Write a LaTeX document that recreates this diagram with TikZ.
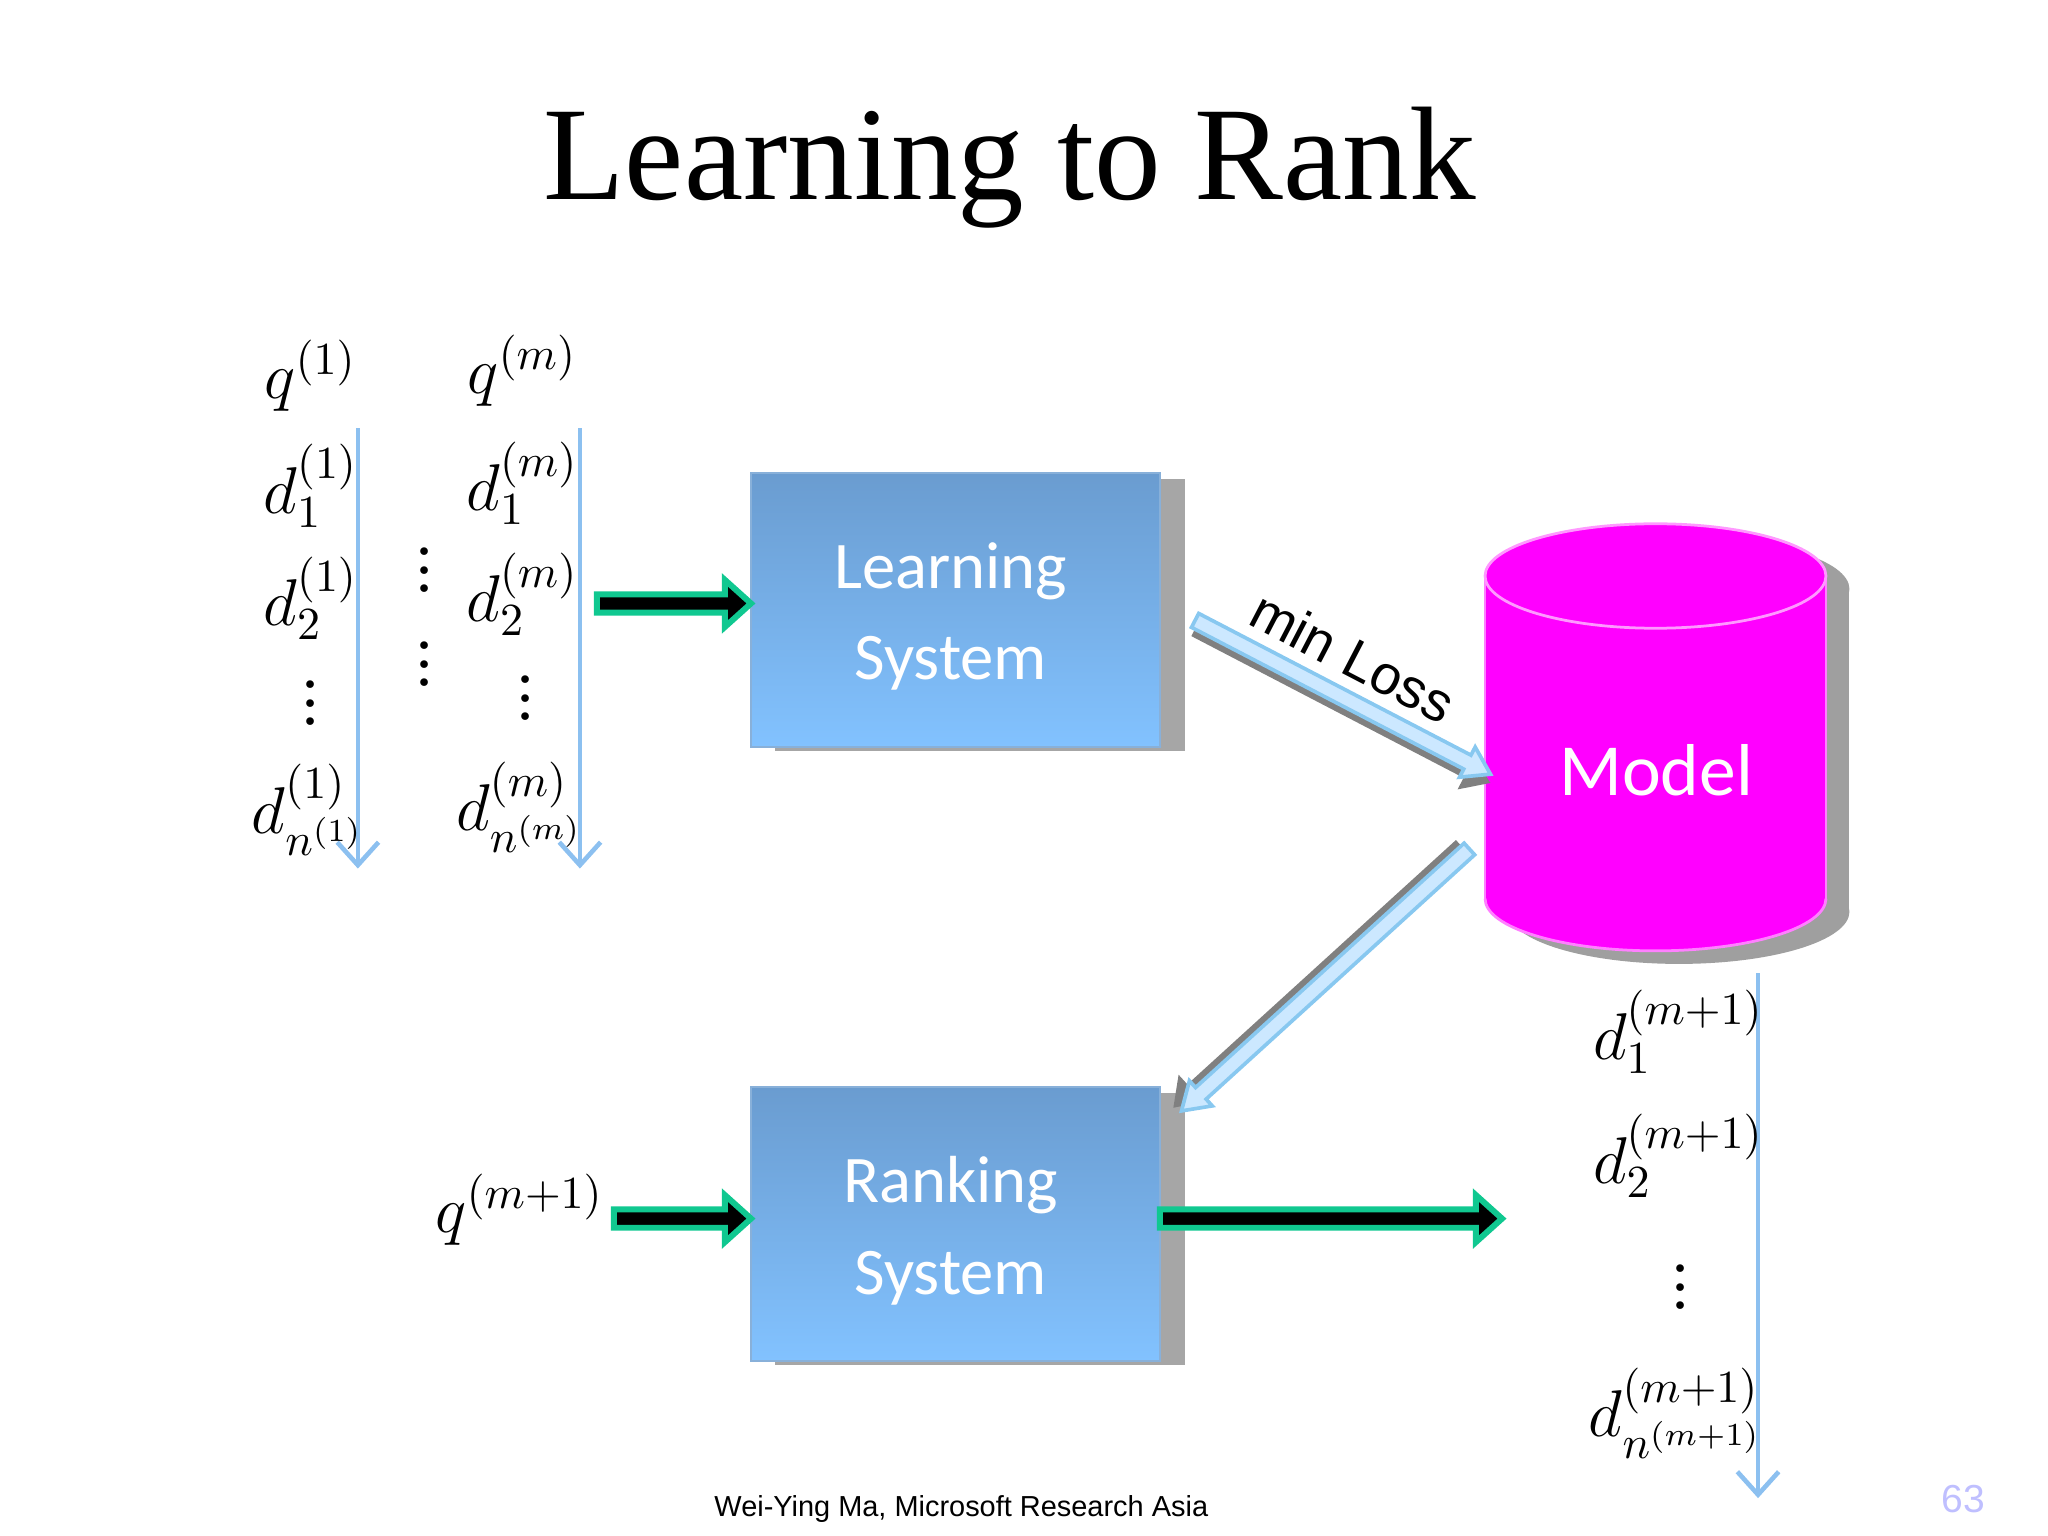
\documentclass[tikz,border=0pt]{standalone}
\usepackage{fontspec}
\setmainfont{Liberation Serif}
\newfontfamily\carlfont{Carlito}
\newfontfamily\libfont{Liberation Sans}
\usetikzlibrary{arrows.meta}
\definecolor{boxtop}{HTML}{6A9CD0}
\definecolor{boxbot}{HTML}{82C2FF}
\definecolor{thinb}{HTML}{8CC0F0}
\definecolor{greenb}{HTML}{10C890}
\definecolor{lightb}{HTML}{CCE8FF}
\definecolor{lightbd}{HTML}{88C8F0}
\definecolor{mag}{HTML}{FF00FF}
\tikzset{
 thin arr/.style={thinb,line width=1pt,-{Straight Barb[length=5pt,width=9pt]}},
 lab/.style={font=\fontsize{14}{16}\selectfont},
 boxtxt/.style={white,align=center,font=\carlfont\fontsize{14.5}{20}\selectfont},
}
\newcommand\fatarrow[3]{%
 \fill[black,draw=greenb,line width=1.3pt] (#1,#3-7)--(#2-20,#3-7)--(#2-20,#3-18)--(#2,#3)--(#2-20,#3+18)--(#2-20,#3+7)--(#1,#3+7)--cycle;}
\newcommand\hollowarr[4]{%
 \begin{scope}[shift={(#1,#2)},rotate=#3]
 \fill[gray] (3,-3)--(#4-20+3,-3)--(#4-20+3,-12+6)--(#4+3,6)--(#4-20+3,12+10)--(#4-20+3,12)--(3,12)--cycle;
 \fill[lightb,draw=lightbd,line width=0.8pt] (0,-6)--(#4-20,-6)--(#4-20,-13)--(#4,0)--(#4-20,13)--(#4-20,6)--(0,6)--cycle;
 \end{scope}}
\begin{document}
\begin{tikzpicture}[x=0.01cm,y=-0.01cm]
\useasboundingbox (0,0) rectangle (1568,1176);
\node[font=\fontsize{29}{34}\selectfont] (title) at (773,128) {Learning to Rank};
% boxes
\fill[gray!70] (593,367) rectangle (907,575);
\shade[top color=boxtop,bottom color=boxbot,draw=boxtop!80] (575,362) rectangle (888,572);
\node[boxtxt] (ls) at (728,472) {Learning\\System};
\fill[gray!70] (593,837) rectangle (907,1045);
\shade[top color=boxtop,bottom color=boxbot,draw=boxtop!80] (575,832) rectangle (888,1042);
\node[boxtxt] (rs) at (728,942) {Ranking\\System};
% cylinder
\begin{scope}[shift={(18,10)}]
\fill[gray!75] (1137,441) rectangle (1398,688);
\fill[gray!75] (1267.5,688) ellipse (130.5 and 40);
\fill[gray!75] (1267.5,441) ellipse (130.5 and 40);
\end{scope}
\fill[mag] (1137,441) rectangle (1398,688);
\fill[mag] (1267.5,688) ellipse (130.5 and 40);
\draw[mag!50!white,line width=0.6pt] (1137,688) arc[start angle=180,end angle=360,x radius=130.5,y radius=-40];
\draw[mag!50!white,line width=0.6pt] (1137,441)--(1137,688) (1398,441)--(1398,688);
\fill[mag,draw=mag!40!white,line width=0.6pt] (1267.5,441) ellipse (130.5 and 40);
\node[white,font=\carlfont\fontsize{16}{20}\selectfont] (model) at (1268,590) {Model};
% fat arrows
\fatarrow{457}{575}{462}
\fatarrow{470}{575}{933}
\fatarrow{888}{1150}{933}
% hollow arrows
\hollowarr{915}{475}{-27.5}{255}
\hollowarr{1125}{650}{-137.7}{298}
\node[rotate=-27.5,font=\libfont\fontsize{12}{14}\selectfont] (ml) at (1036,503) {min Loss};
% thin arrows
\coordinate (a1) at (274,328); \coordinate (a1e) at (274,665);
\coordinate (a2) at (444,328); \coordinate (a2e) at (444,665);
\coordinate (a3) at (1346,745); \coordinate (a3e) at (1346,1147);
\draw[thin arr] (a1)--(a1e);
\draw[thin arr] (a2)--(a2e);
\draw[thin arr] (a3)--(a3e);
% labels
\node[lab] (q1) at (238,288) {$q^{(1)}$};
\node[lab] (qm) at (400,284) {$q^{(m)}$};
\node[lab] (d11) at (238,372) {$d_1^{(1)}$};
\node[lab] (d21) at (238,458) {$d_2^{(1)}$};
\node[lab] (v1) at (238,528) {$\vdots$};
\node[lab] (dn1) at (236,620) {$d_{n^{(1)}}^{(1)}$};
\node[lab] (c1) at (325,426) {$\vdots$};
\node[lab] (c2) at (325,498) {$\vdots$};
\node[lab] (d1m) at (400,370) {$d_1^{(m)}$};
\node[lab] (d2m) at (400,455) {$d_2^{(m)}$};
\node[lab] (vm) at (402,524) {$\vdots$};
\node[lab] (dnm) at (398,618) {$d_{n^{(m)}}^{(m)}$};
\node[lab] (qm1) at (398,926) {$q^{(m+1)}$};
\node[lab] (r1) at (1285,790) {$d_1^{(m+1)}$};
\node[lab] (r2) at (1285,885) {$d_2^{(m+1)}$};
\node[lab] (rv) at (1287,975) {$\vdots$};
\node[lab] (rn) at (1283,1082) {$d_{n^{(m+1)}}^{(m+1)}$};
\node[font=\libfont\fontsize{6.3}{8}\selectfont] (foot) at (736,1155) {Wei-Ying Ma, Microsoft Research Asia};
\node[font=\libfont\fontsize{8.5}{10}\selectfont,color=blue!25] (pg) at (1503,1148) {63};
\end{tikzpicture}
\end{document}
